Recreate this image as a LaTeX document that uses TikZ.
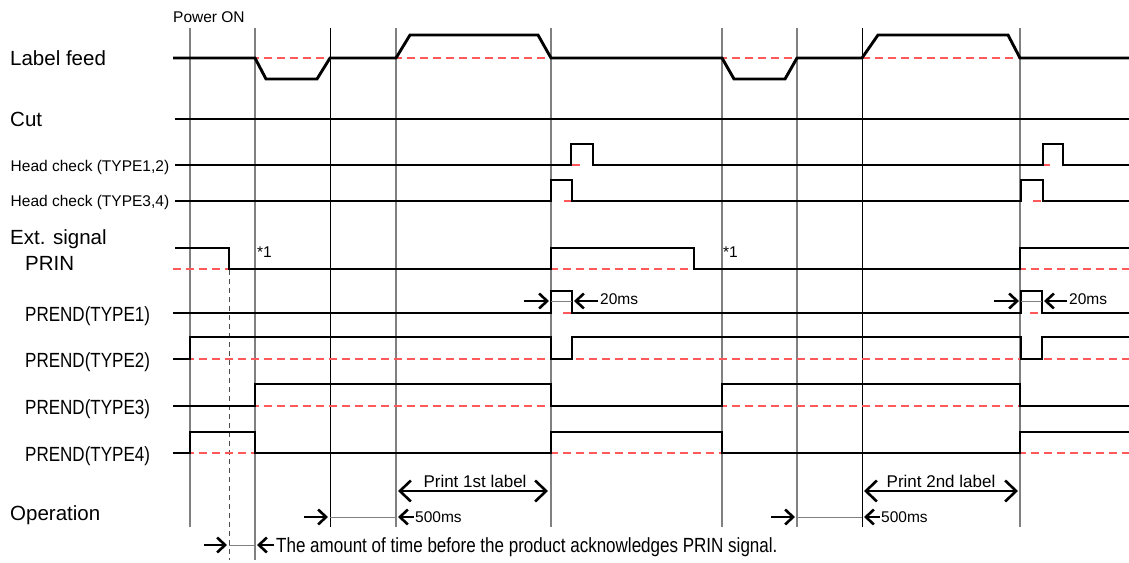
\documentclass[tikz,border=0pt]{standalone}
\usepackage{fontspec}
\setmainfont{Liberation Sans}
\newfontfamily\narrowfont{Liberation Sans}[FakeStretch=0.83]
\usetikzlibrary{arrows.meta}
\newcommand\setfs[1]{\fontsize{#1pt}{#1pt}\selectfont}
\begin{document}
\begin{tikzpicture}[x=1pt,y=-1pt,
  sig/.style={line width=2.9pt},
  refl/.style={red!65, line width=1.3pt, dash pattern=on 8pt off 5pt},
  vgrid/.style={black!50, line width=1.4pt},
  vgridk/.style={black, line width=0.9pt},
  dimline/.style={black!50, line width=1pt},
  arr/.style={-{Straight Barb[length=8pt,width=15pt]}, line width=2.6pt},
  bigarr/.style={{Straight Barb[length=11pt,width=21pt]}-{Straight Barb[length=11pt,width=21pt]}, line width=2.6pt},
  lbl/.style={inner sep=0pt, anchor=base west, font=\setfs{20.5}},
  nlbl/.style={inner sep=0pt, anchor=base west, font=\narrowfont\setfs{20.5}},
  slbl/.style={inner sep=0pt, anchor=base west, font=\setfs{15.5}},
  tlbl/.style={inner sep=0pt, anchor=base west, font=\setfs{15.5}}]
\useasboundingbox (0,0) rectangle (1129,562);

% vertical time lines
\foreach \x in {190,396,551,722,797,1020} \draw[vgrid] (\x,28) -- (\x,527);
\draw[vgrid] (255,28) -- (255,560);
\foreach \x in {330,862} \draw[vgridk] (\x,28) -- (\x,527);
\draw[black!70, line width=0.9pt, dash pattern=on 5pt off 4pt] (229,270) -- (229,560);

% red reference lines
\foreach \y in {58,269,359,406,453} \draw[refl] (173,\y) -- (1129,\y);
\draw[refl] (572,165) -- (582,165);
\draw[refl] (1043,165) -- (1050,165);
\draw[refl] (564,201) -- (572,201);
\draw[refl] (1033,201) -- (1042,201);
\draw[refl] (563,313) -- (571,313);
\draw[refl] (1030,313) -- (1041,313);

% labels
\node[lbl] (lf) at (10,65) {Label feed};
\node[lbl] (cut) at (10,126.5) {Cut};
\node[slbl] (hc12) at (10.5,171.5) {Head check (TYPE1,2)};
\node[slbl] (hc34) at (10.5,206.5) {Head check (TYPE3,4)};
\node[lbl] (ext) at (10,244) {Ext. signal};
\node[lbl] (prin) at (25,270.5) {PRIN};
\node[nlbl] (p1) at (25,321.5) {PREND(TYPE1)};
\node[nlbl] (p2) at (25,367) {PREND(TYPE2)};
\node[nlbl] (p3) at (25,414) {PREND(TYPE3)};
\node[nlbl] (p4) at (25,461) {PREND(TYPE4)};
\node[lbl] (op) at (10,520) {Operation};
\node[tlbl] (pon) at (173,22.5) {Power ON};
\node[tlbl] (s1a) at (257,257) {*1};
\node[tlbl] (s1b) at (723,257) {*1};

% signals
\draw[sig] (173,58) -- (255,58) -- (266,79) -- (317,79) -- (330,58) -- (396,58) -- (410,35) -- (538,35) -- (551,58) -- (722,58) -- (734,79) -- (785,79) -- (797,58) -- (862,58) -- (878,35) -- (1008,35) -- (1020,58) -- (1129,58);
\draw[sig] (175,119) -- (1129,119);
\draw[sig] (175,165) -- (571,165) -- (571,144) -- (593,144) -- (593,165) -- (1043,165) -- (1043,144) -- (1063,144) -- (1063,165) -- (1129,165);
\draw[sig] (175,201) -- (551,201) -- (551,180) -- (572,180) -- (572,201) -- (1021,201) -- (1021,180) -- (1043,180) -- (1043,201) -- (1129,201);
\draw[sig] (175,248) -- (229,248) -- (229,269) -- (551,269) -- (551,248) -- (694,248) -- (694,269) -- (1020,269) -- (1020,248) -- (1129,248);
\draw[sig] (173,313) -- (551,313) -- (551,291) -- (572,291) -- (572,313) -- (1021,313) -- (1021,291) -- (1042,291) -- (1042,313) -- (1129,313);
\draw[sig] (173,359) -- (190,359) -- (190,337) -- (551,337) -- (551,359) -- (572,359) -- (572,337) -- (1021,337) -- (1021,359) -- (1042,359) -- (1042,337) -- (1129,337);
\draw[sig] (173,406) -- (255,406) -- (255,384) -- (551,384) -- (551,406) -- (722,406) -- (722,384) -- (1020,384) -- (1020,406) -- (1129,406);
\draw[sig] (173,453) -- (190,453) -- (190,432) -- (255,432) -- (255,453) -- (551,453) -- (551,432) -- (722,432) -- (722,453) -- (1020,453) -- (1020,432) -- (1129,432);

% 20ms dimensions
\coordinate (a1) at (524,301); \coordinate (a2) at (549,301);
\coordinate (a3) at (598,301); \coordinate (a4) at (574,301);
\draw[arr] (a1) -- (a2);
\draw[dimline] (551,301) -- (572,301);
\draw[arr] (a3) -- (a4);
\node[slbl] (ms1) at (600,304.5) {20ms};
\coordinate (b1) at (994,301); \coordinate (b2) at (1019,301);
\coordinate (b3) at (1067,301); \coordinate (b4) at (1044,301);
\draw[arr] (b1) -- (b2);
\draw[dimline] (1021,301) -- (1042,301);
\draw[arr] (b3) -- (b4);
\node[slbl] (ms2) at (1069,304.5) {20ms};

% operation row
\coordinate (pa) at (398,491); \coordinate (pb) at (548,491);
\draw[bigarr] (pa) -- (pb);
\node[inner sep=0pt, anchor=base, font=\setfs{17}] (pr1) at (475,487) {Print 1st label};
\coordinate (pc) at (864,491); \coordinate (pd) at (1018,491);
\draw[bigarr] (pc) -- (pd);
\node[inner sep=0pt, anchor=base, font=\setfs{17}] (pr2) at (941,487) {Print 2nd label};

\coordinate (c1) at (304,517); \coordinate (c2) at (328,517);
\coordinate (c3) at (414,517); \coordinate (c4) at (398,517);
\draw[arr] (c1) -- (c2);
\draw[dimline] (330,517) -- (396,517);
\draw[arr] (c3) -- (c4);
\node[tlbl] (t500a) at (415,522) {500ms};
\coordinate (d1) at (771,517); \coordinate (d2) at (795,517);
\coordinate (d3) at (880,517); \coordinate (d4) at (864,517);
\draw[arr] (d1) -- (d2);
\draw[dimline] (797,517) -- (862,517);
\draw[arr] (d3) -- (d4);
\node[tlbl] (t500b) at (881,522) {500ms};

% bottom note
\coordinate (e1) at (204,545); \coordinate (e2) at (227,545);
\coordinate (e3) at (274,545); \coordinate (e4) at (257,545);
\draw[arr] (e1) -- (e2);
\draw[dimline] (229,545) -- (255,545);
\draw[arr] (e3) -- (e4);
\node[nlbl] (note) at (276,552) {The amount of time before the product acknowledges PRIN signal.};
\end{tikzpicture}
\end{document}
